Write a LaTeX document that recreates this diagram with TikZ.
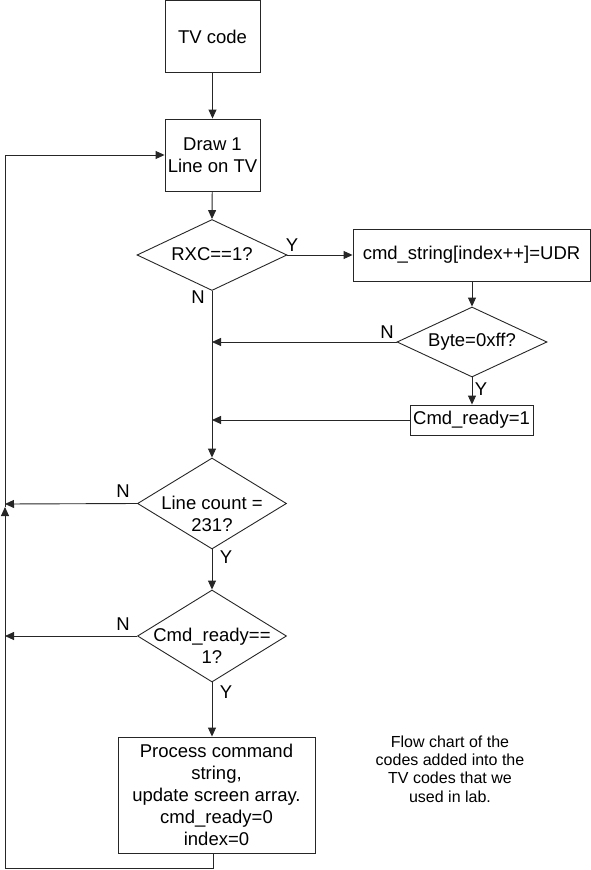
\documentclass[tikz,border=0pt]{standalone}
\usepackage{fontspec}
\setmainfont{Liberation Sans}
\usetikzlibrary{shapes.geometric,arrows.meta}
\begin{document}
\begin{tikzpicture}[x=1pt,y=-1pt,
  every node/.style={font=\fontsize{18.5}{22}\selectfont},
  box/.style={draw=black!85,line width=0.9pt,rectangle,inner sep=0pt,align=center},
  dia/.style={draw=black!85,line width=0.9pt,diamond,inner sep=0pt},
  txt/.style={align=center,inner sep=0pt},
  lbl/.style={inner sep=0pt},
  flow/.style={draw=black!85,line width=0.9pt,-{Triangle[length=9pt,width=8pt]}},
  ln/.style={draw=black!85,line width=0.9pt}]
\useasboundingbox (0,0) rectangle (591,870);

% boxes
\node[box,minimum width=95pt,minimum height=72pt] (tv) at (212.5,36.5) {TV code};
\node[box,minimum width=95pt,minimum height=72pt] (draw) at (212.5,155) {Draw 1\\Line on TV};
\node[dia,minimum width=150pt,minimum height=71pt] (rxc) at (212,255) {};
\node[txt] (rxct) at (212,254) {RXC==1?};
\node[box,minimum width=237pt,minimum height=52pt] (cmd) at (471.5,255) {cmd\_string[index++]=UDR};
\node[dia,minimum width=150pt,minimum height=70pt] (byte) at (472,342) {};
\node[txt] (bytet) at (472,342) {Byte=0xff?};
\node[box,minimum width=123pt,minimum height=30pt] (ready) at (471.5,420) {Cmd\_ready=1};
\node[dia,minimum width=149pt,minimum height=91pt] (lc) at (212,503.5) {};
\node[txt] (lct) at (212,514) {Line count =\\231?};
\node[dia,minimum width=149pt,minimum height=92pt] (cr) at (212,636) {};
\node[txt] (crt) at (212,646) {Cmd\_ready==\\1?};
\node[box,minimum width=197pt,minimum height=116pt] (proc) at (216.5,795)
  {Process command\\string,\\update screen array.\\cmd\_ready=0\\index=0};
\node[txt,font=\fontsize{16}{18.3}\selectfont] (note) at (450,769)
  {Flow chart of the\\codes added into the\\TV codes that we\\used in lab.};

% labels
\node[lbl] (y1) at (292,245) {Y};
\node[lbl] (n1) at (198,297) {N};
\node[lbl] (n2) at (387,332) {N};
\node[lbl] (y2) at (481,389) {Y};
\node[lbl] (n3) at (123,491) {N};
\node[lbl] (y3) at (226,557) {Y};
\node[lbl] (n4) at (123,624) {N};
\node[lbl] (y4) at (226,692) {Y};

% coordinates
\coordinate (m1) at (212,342);
\coordinate (m2) at (212,420);
\coordinate (l1) at (5,504);
\coordinate (l2) at (5,636);
\coordinate (lb) at (213,868);
\coordinate (lc0) at (5,868);
\coordinate (lu) at (5,507);
\coordinate (lt) at (5,155);

% connectors
\draw[flow] (tv) -- (draw);
\draw[flow] (draw) -- (rxc.north);
\draw[flow] (rxc.east) -- (cmd.west);
\draw[flow] (cmd.south -| byte.north) -- (byte.north);
\draw[flow] (byte.west) -- (m1);
\draw[flow] (byte.south) -- (ready.north -| byte.south);
\draw[flow] (ready.west) -- (m2);
\draw[flow] (rxc.south) -- (lc.north);
\draw[flow] (lc.south) -- (cr.north);
\draw[flow] (cr.south) -- (cr.south |- proc.north);
\draw[flow] (lc.west) -- (l1);
\draw[flow] (cr.west) -- (l2);
\draw[flow] (proc.south -| lb) -- (lb) -- (lc0) -- (lu);
\draw[flow] (lu) -- (lt) -- (draw.west);
\end{tikzpicture}
\end{document}
